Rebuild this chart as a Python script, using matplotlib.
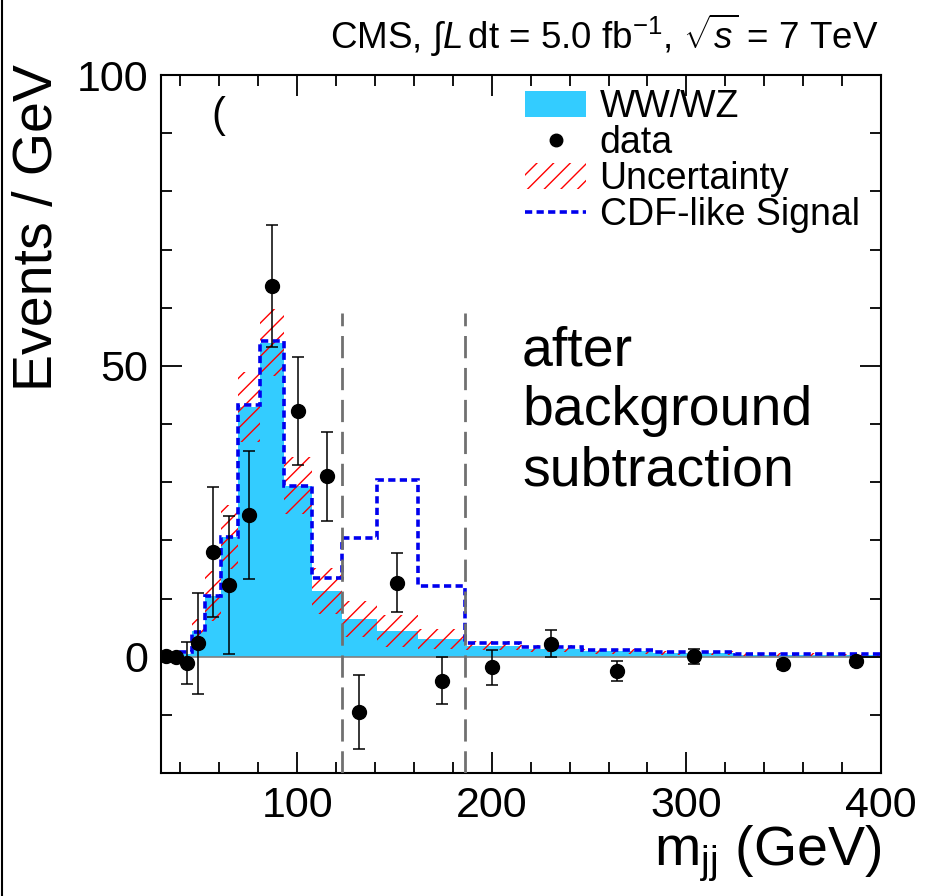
import numpy as np
import matplotlib
matplotlib.use("Agg")
import matplotlib.pyplot as plt
from matplotlib.patches import Patch
from matplotlib.lines import Line2D

plt.rcParams['font.family'] = ['Liberation Sans', 'DejaVu Sans']
plt.rcParams['mathtext.fontset'] = 'custom'
plt.rcParams['mathtext.rm'] = 'Liberation Sans'
plt.rcParams['mathtext.it'] = 'Liberation Sans:italic'
plt.rcParams['mathtext.bf'] = 'Liberation Sans:bold'
plt.rcParams['hatch.linewidth'] = 1.0

# ---- data ----
bin_edges = [30, 35, 40.5, 45.8, 52.6, 60.7, 69.7, 80.9, 93.4, 107.4, 122.9,
             140.8, 162.2, 186.2, 214.5, 246.2, 282.8, 325, 374, 400]
ww_wz = [0, 0, 0.5, 4.4, 10.4, 20.5, 42.9, 54.0, 29.4, 11.3, 6.5,
         4.4, 3.1, 1.9, 1.4, 0.9, 0.6, 0.35, 0.25]
uncertainty = [0, 0, 0.4, 2.0, 4.3, 5.5, 6.0, 5.7, 4.9, 4.0, 3.1,
               2.7, 1.7, 0.8, 0.6, 0.45, 0.35, 0.25, 0.2]
cdf_like_total = [0, 0, 0.8, 4.2, 10.4, 20.6, 43.2, 54.2, 29.4, 13.6, 20.4,
                  30.4, 12.1, 2.3, 1.6, 1.1, 0.75, 0.5, 0.4]
data_values = [0.1, 0.0, -1.1, 2.3, 18.0, 12.3, 24.4, 63.7, 42.2, 31.0, -9.5,
               12.7, -4.1, -1.8, 2.2, -2.5, 0.05, -1.3, -0.8]
data_errors = [0, 0, 3.6, 8.7, 11.1, 11.8, 11.0, 10.5, 9.3, 7.7, 6.4,
               5.1, 4.0, 3.0, 2.3, 1.75, 1.3, 0.8, 0.7]
signal_window = [122.9, 186.2]
window_line_top = 59
x_ticks = [100, 200, 300, 400]
y_ticks = [0, 50, 100]

edges = np.array(bin_edges)
ww = np.array(ww_wz)
unc = np.array(uncertainty)
centers = 0.5 * (edges[:-1] + edges[1:])

fig = plt.figure(figsize=(9.25, 8.96), dpi=100)
ax = fig.add_axes([161/925, 1-773/896, 720/925, 698/896])

ax.stairs(ww, edges, fill=True, color='#33CCFF', lw=0, zorder=1)
ax.axhline(0, color='#808080', lw=1.2, zorder=1.5)
ax.stairs(ww + unc, edges, baseline=ww - unc, fill=True, facecolor='none',
          edgecolor='red', hatch='//', lw=0, zorder=2)
ax.stairs(cdf_like_total, edges, color='#0000EE', lw=2.6,
          ls=(0, (2.0, 1.2)), zorder=3)
ax.vlines(signal_window, -20, window_line_top, colors='#707070', lw=2.0,
          linestyles=[(0, (8, 3.5))], zorder=3.5)
ax.errorbar(centers, data_values, yerr=data_errors, fmt='o', color='black',
            ms=10, elinewidth=1.1, capsize=4, capthick=1.1, zorder=5)

ax.set_xlim(30, 400)
ax.set_ylim(-20, 100)
ax.set_xticks(x_ticks)
ax.set_yticks(y_ticks)
ax.xaxis.set_minor_locator(matplotlib.ticker.MultipleLocator(20))
ax.yaxis.set_minor_locator(matplotlib.ticker.MultipleLocator(10))
ax.tick_params(which='both', direction='in', top=True, right=True, width=1.3)
ax.tick_params(which='major', length=15, labelsize=31, pad=9)
ax.tick_params(which='minor', length=8)
for sp in ax.spines.values():
    sp.set_linewidth(1.5)

ax.set_ylabel('Events / GeV', fontsize=40, loc='top')
ax.yaxis.set_label_coords(-0.135, 1.015)
ax.set_xlabel(r'm$_{\mathregular{jj}}$ (GeV)', fontsize=40, loc='right')
ax.xaxis.set_label_coords(1.0, -0.072)

ax.text(215.5, 57.0, 'after\nbackground\nsubtraction', fontsize=40,
        ha='left', va='top', linespacing=1.2)
ax.text(59.5, 93, '(', fontsize=30, ha='center', va='center')

handles = [Patch(facecolor='#33CCFF', edgecolor='none'),
           Line2D([], [], marker='o', color='black', ls='none', ms=9),
           Patch(facecolor='none', edgecolor='red', hatch='//', lw=0),
           Line2D([], [], color='#0000EE', lw=2.6, ls=(0, (2.0, 1.2)))]
labels = ['WW/WZ', 'data', 'Uncertainty', 'CDF-like Signal']
ax.legend(handles, labels, loc='upper left', bbox_to_anchor=(0.505, 0.98),
          frameon=False, fontsize=27, labelspacing=0.0, handlelength=1.65,
          handleheight=0.7, handletextpad=0.35, borderpad=0, borderaxespad=0)

fig.text(878/925, 1-35/896,
         r'CMS, $\int L\,\mathrm{dt}$ = 5.0 fb$^{-1}$, $\sqrt{s}$ = 7 TeV',
         fontsize=26.5, ha='right', va='center')

fig.add_artist(Line2D([2/925, 2/925], [0, 1], color='black', lw=1.5,
                      transform=fig.transFigure))

fig.savefig('out.png', dpi=100)
